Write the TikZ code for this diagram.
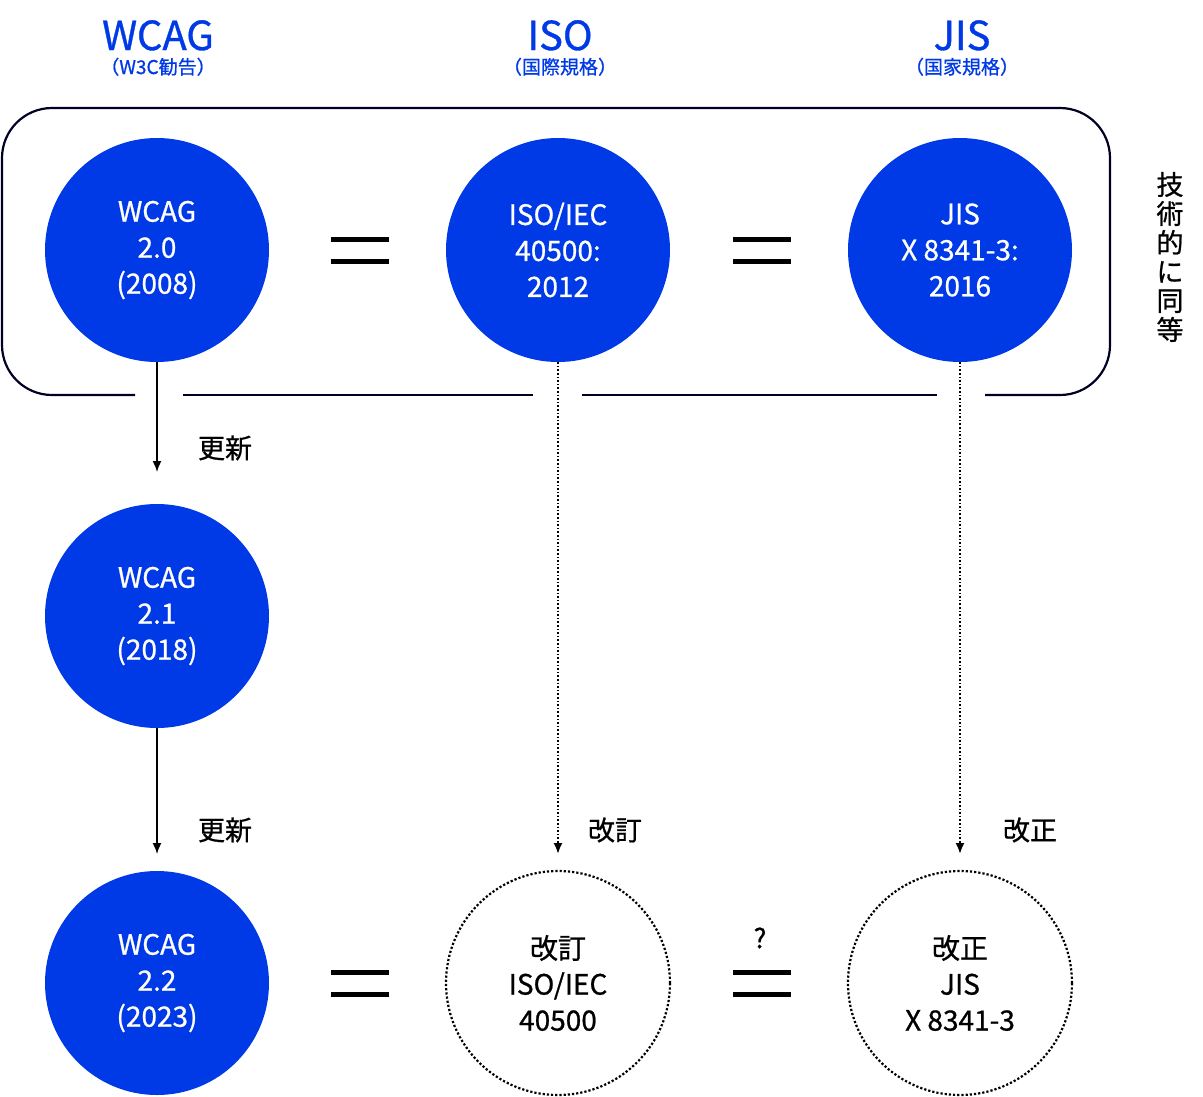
\documentclass[tikz,border=0pt]{standalone}
\usepackage{fontspec}
\setmainfont{Noto Sans CJK JP}
\newfontfamily\medfont{Noto Sans CJK JP}[FakeBold=0.8]
\usetikzlibrary{arrows.meta}
\definecolor{wblue}{HTML}{0039E6}
\tikzset{
  std/.style   = {circle, fill=wblue, minimum size=224pt, inner sep=0pt, text=white, align=center, font=\medfont\fontsize{28}{36}\selectfont},
  rev/.style   = {circle, draw, dotted, line width=2.2pt, minimum size=224pt, inner sep=0pt, align=center, font=\medfont\fontsize{28}{36}\selectfont},
  head/.style  = {text=wblue, align=center, font=\medfont\fontsize{40}{30}\selectfont},
  lbl/.style   = {font=\medfont\fontsize{27}{30}\selectfont},
  ->/.style    = {draw, line width=1.6pt, -{Latex[length=11pt,width=9pt]}},
  eq/.style    = {line width=5pt}
}
\newcommand{\eqsign}[2]{\draw[eq] (#1-29,#2-11) -- (#1+29,#2-11) (#1-29,#2+11) -- (#1+29,#2+11);}
\begin{document}
\begin{tikzpicture}[x=1pt, y=-1pt]
\useasboundingbox (0,0) rectangle (1203,1096);

% headers
\node[head] at (158,48) {WCAG\\[-6pt]{\fontsize{19}{20}\selectfont（W3C勧告）}};
\node[head] at (560,48) {ISO\\[-6pt]{\fontsize{19}{20}\selectfont（国際規格）}};
\node[head] at (962,48) {JIS\\[-6pt]{\fontsize{19}{20}\selectfont（国家規格）}};

% frame
\draw[line width=2.2pt, color=black!85!blue, rounded corners=50pt]
  (135,395) -- (2,395) -- (2,108) -- (1110,108) -- (1110,395) -- (985,395);
\draw[line width=2.2pt, color=black!85!blue] (183,395) -- (533,395) (582,395) -- (937,395);
\node[lbl, align=center, inner sep=0pt, font=\medfont\fontsize{27}{29}\selectfont] (same) at (1170,257) {技\\術\\的\\に\\同\\等};

% nodes
\node[std] (w20) at (157,250) {WCAG\\2.0\\(2008)};
\node[std] (iso) at (558,250) {ISO/IEC\\40500:\\2012};
\node[std] (jis) at (960,250) {JIS\\X 8341-3:\\2016};
\node[std] (w21) at (157,616) {WCAG\\2.1\\(2018)};
\node[std] (w22) at (157,983) {WCAG\\2.2\\(2023)};
\node[rev] (isor) at (558,983) {改訂\\ISO/IEC\\40500};
\node[rev] (jisr) at (960,983) {改正\\JIS\\X 8341-3};
\coordinate (e1) at (157,472);
\coordinate (e2) at (157,854);
\coordinate (e3) at (558,854);
\coordinate (e4) at (960,854);

% equals
\eqsign{360}{250}
\eqsign{762}{250}
\eqsign{360}{983}
\eqsign{762}{983}
\node[lbl] (q) at (760,938) {?};

% edges
\path[->] (w20) -- (e1);
\path[->] (w21) -- (e2);
\path[->, dotted, line width=2pt] (iso) -- (e3);
\path[->, dotted, line width=2pt] (jis) -- (e4);
\node[lbl] (l1) at (225,448) {更新};
\node[lbl] (l2) at (225,830) {更新};
\node[lbl] (l3) at (615,830) {改訂};
\node[lbl] (l4) at (1030,830) {改正};
\end{tikzpicture}
\end{document}
